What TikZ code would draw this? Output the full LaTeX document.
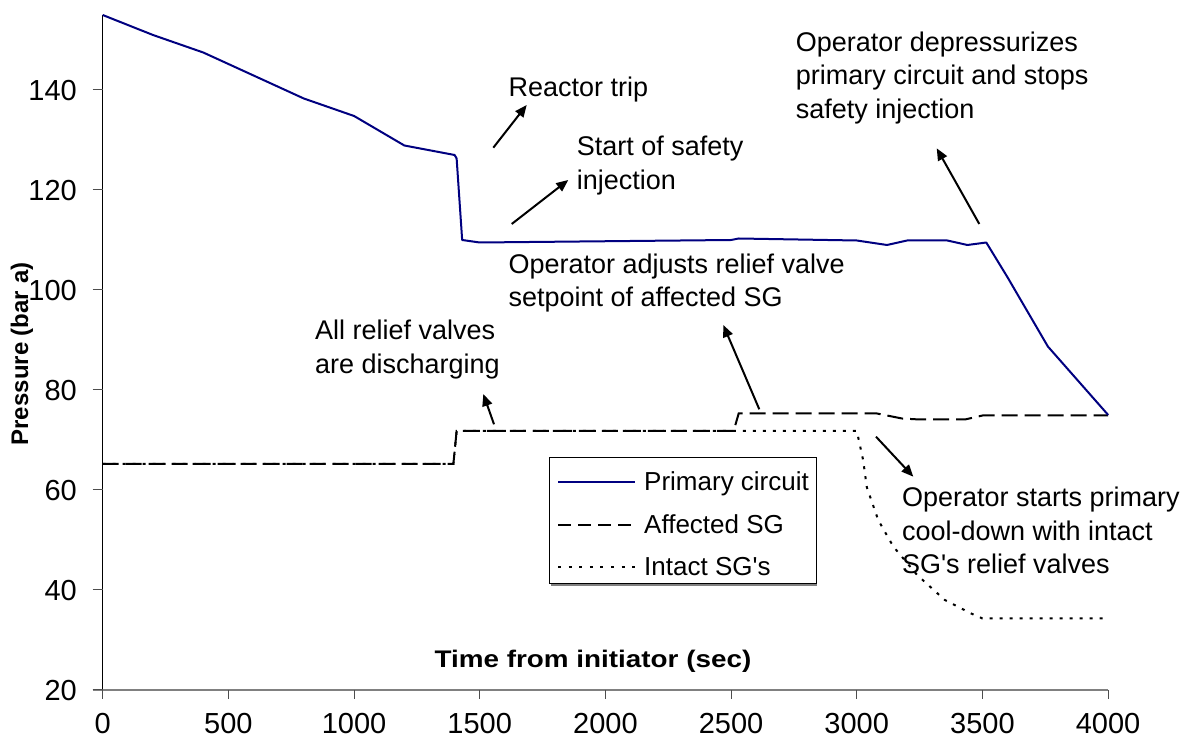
\documentclass[tikz,border=0pt]{standalone}
\usepackage{fontspec}
\setmainfont{Liberation Sans}
\usetikzlibrary{arrows.meta}
\definecolor{navyline}{RGB}{0,0,128}
\definecolor{axisgray}{RGB}{128,128,128}
\tikzset{
  primary/.style={draw=navyline, line width=2pt, line join=round},
  affected/.style={draw=black, line width=2pt, dash pattern=on 16pt off 7pt},
  intact/.style={draw=black, line width=2pt, dash pattern=on 3pt off 7pt},
  note/.style={font=\fontsize{27}{33.3}\selectfont, inner sep=0pt, anchor=base west},
  pointer/.style={draw=black, line width=2pt, -{Triangle[length=12pt,width=10pt]}},
  ticklabel/.style={font=\fontsize{29}{34}\selectfont, inner sep=0pt},
  axistitle/.style={font=\bfseries\fontsize{24}{28}\selectfont, inner sep=0pt},
  legendtext/.style={font=\fontsize{26}{31}\selectfont, inner sep=0pt, anchor=base west},
}
\newcommand{\twolines}[2]{\begin{tabular}[t]{@{}l@{}}#1\\#2\end{tabular}}
\newcommand{\threelines}[3]{\begin{tabular}[t]{@{}l@{}}#1\\#2\\#3\end{tabular}}
\begin{document}
\begin{tikzpicture}
\fill[white] (0,0) rectangle (1194pt,747pt);
\useasboundingbox (0,0) rectangle (1194pt,747pt);

% ---------- pixel-coordinate scope (y downwards) ----------
\begin{scope}[x=1pt,y=-1pt,shift={(0pt,747pt)}]
  % axes
  \draw[axisgray, line width=2pt] (92.7,690) -- (1108.1,690);
  \draw[black, line width=1pt] (102.7,15) -- (102.7,690);
  % y ticks and labels
  \foreach \v in {20,40,...,140}{
    \draw[axisgray!60!black, line width=1pt] (92.7,{690-5*(\v-20)}) -- (102.7,{690-5*(\v-20)});
    \node[ticklabel, anchor=east] (yl\v) at (77,{691-5*(\v-20)}) {\v};
  }
  % x ticks and labels
  \foreach \k/\lab in {0/0,1/500,2/1000,3/1500,4/2000,5/2500,6/3000,7/3500,8/4000}{
    \draw[axisgray!60!black, line width=1pt] ({102.7+125.67*\k},690) -- ({102.7+125.67*\k},699);
    \node[ticklabel] (xl\k) at ({102.7+125.67*\k},724) {\lab};
  }
  % axis titles
  \node[axistitle, rotate=90] (ytitle) at (22,354) {Pressure (bar a)};
  \node[axistitle, xscale=1.16] (xtitle) at (593,661) {Time from initiator (sec)};
\end{scope}

% ---------- data scope ----------
\begin{scope}[x=0.25137pt,y=5pt,shift={(102.7pt,-43pt)}]
  \draw[intact] (0,65.2) -- (1395,65.2) -- (1408,71.8) -- (3000,71.8) -- (3025,66)
    -- (3040,60.5) -- (3085,54) -- (3145,48.7) -- (3240,43) -- (3350,38)
    -- (3455,35.3) -- (3500,34.3) -- (4000,34.3);
  \draw[affected] (0,65.2) -- (1395,65.2) -- (1408,71.8) -- (2510,71.8) -- (2530,75.3)
    -- (3080,75.3) -- (3180,74.3) -- (3250,74.1) -- (3430,74.1) -- (3500,74.9) -- (4000,74.9);
  \draw[primary] (0,155) -- (200,151) -- (400,147.5) -- (800,138.3) -- (1000,134.8)
    -- (1200,128.9) -- (1400,127) -- (1408,126.3) -- (1430,110) -- (1500,109.5)
    -- (2500,110) -- (2530,110.3) -- (3000,109.9) -- (3120,109) -- (3200,109.9)
    -- (3360,109.9) -- (3440,109) -- (3515,109.5) -- (3600,102.5) -- (3760,88.7) -- (4000,75);
\end{scope}

% ---------- annotations and legend (pixel coordinates) ----------
\begin{scope}[x=1pt,y=-1pt,shift={(0pt,747pt)}]
  \node[note] (rt) at (508.3,96.7) {Reactor trip};
  \node[note] (ssi) at (576.7,156) {\twolines{Start of safety}{injection}};
  \node[note] (odp) at (795.7,51.7) {\threelines{Operator depressurizes}{primary circuit and stops}{safety injection}};
  \node[note] (oar) at (508.3,273.3) {\twolines{Operator adjusts relief valve}{setpoint of affected SG}};
  \node[note] (arv) at (315,340) {\twolines{All relief valves}{are discharging}};
  \node[note] (osp) at (901.8,507) {\threelines{Operator starts primary}{cool-down with intact}{SG\textquotesingle s relief valves}};

  \coordinate (rtA) at (493.3,147.7);  \coordinate (rtB) at (526.7,105);
  \coordinate (ssiA) at (511.7,224);   \coordinate (ssiB) at (568.3,180);
  \coordinate (odpA) at (979.3,224);   \coordinate (odpB) at (936.7,148.3);
  \coordinate (oarA) at (759.3,409.3); \coordinate (oarB) at (723.3,325);
  \coordinate (arvA) at (494,424.3);   \coordinate (arvB) at (483.3,394);
  \coordinate (ospA) at (876,436.7);   \coordinate (ospB) at (913.3,476.7);
  \draw[pointer] (rtA) -- (rtB);
  \draw[pointer] (ssiA) -- (ssiB);
  \draw[pointer] (odpA) -- (odpB);
  \draw[pointer] (oarA) -- (oarB);
  \draw[pointer] (arvA) -- (arvB);
  \draw[pointer] (ospA) -- (ospB);

  % legend
  \draw[axisgray, line width=2pt] (551,585) -- (817,585);
  \draw[black, line width=1pt, fill=white] (549,458) rectangle (816,584);
  \draw[primary] (558,481.7) -- (635,481.7);
  \draw[affected, dash pattern=on 13pt off 7pt] (558,525) -- (635,525);
  \draw[intact, dash pattern=on 3pt off 7.6pt] (558,566.7) -- (635,566.7);
  \node[legendtext] (lg1) at (644,490.5) {Primary circuit};
  \node[legendtext] (lg2) at (644,534) {Affected SG};
  \node[legendtext] (lg3) at (644,575.5) {Intact SG\textquotesingle s};
\end{scope}
\end{tikzpicture}
\end{document}
